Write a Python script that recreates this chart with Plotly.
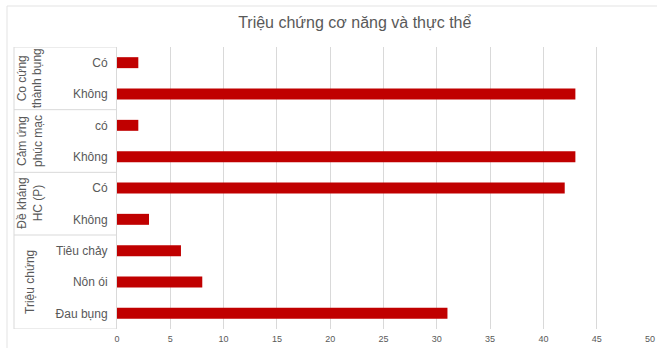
import plotly.graph_objects as go

groups = ["Co cứng<br>thành bụng", "Cảm ứng<br>phúc mạc", "Đề kháng<br>HC (P)", "Triệu chứng"]
group_sizes = [2, 2, 2, 3]
categories = ["Có", "Không", "có", "Không", "Có", "Không", "Tiêu chảy", "Nôn ói", "Đau bụng"]
values = [2, 43, 2, 43, 42, 3, 6, 8, 31]
x_ticks = [0, 5, 10, 15, 20, 25, 30, 35, 40, 45, 50]

W, H = 657, 348
ML, MR, MT, MB = 117, 7, 47, 19
PW, PH = W - ML - MR, H - MT - MB

def px_x(p):
    return (p - ML) / PW

def px_y(p):
    return (H - MB - p) / PH

pos = list(range(len(categories)))

fig = go.Figure(go.Bar(
    x=values, y=pos, orientation="h",
    marker=dict(color="#C00000", line=dict(width=0)),
    hoverinfo="x",
))

grey = "#595959"
font = "Liberation Sans, Arial, sans-serif"

shapes = []
annotations = []
line_c = "#d9d9d9"
start = 0
boundaries = [-0.5]
for g, n in zip(groups, group_sizes):
    end = start + n
    boundaries.append(end - 0.5)
    annotations.append(dict(
        text=g, x=px_x(30), xref="paper", y=(start + end - 1) / 2, yref="y",
        textangle=-90, showarrow=False, xanchor="center", yanchor="middle",
        font=dict(family=font, size=12, color=grey),
    ))
    start = end
for b in boundaries:
    shapes.append(dict(type="line", xref="paper", yref="y",
                       x0=px_x(14), x1=0, y0=b, y1=b,
                       line=dict(color=line_c, width=1)))
shapes.append(dict(type="line", xref="paper", yref="y",
                   x0=px_x(14), x1=px_x(14), y0=-0.5, y1=len(categories) - 0.5,
                   line=dict(color=line_c, width=1)))
shapes.append(dict(type="line", xref="paper", yref="paper",
                   x0=px_x(7), x1=px_x(660), y0=px_y(6), y1=px_y(6),
                   line=dict(color="#e3e3e3", width=1)))
shapes.append(dict(type="line", xref="paper", yref="paper",
                   x0=px_x(7), x1=px_x(7), y0=px_y(6), y1=px_y(350),
                   line=dict(color="#e3e3e3", width=1)))

fig.update_layout(
    width=W, height=H,
    margin=dict(l=ML, r=MR, t=MT, b=MB),
    paper_bgcolor="white", plot_bgcolor="white",
    title=dict(text="Triệu chứng cơ năng và thực thể", x=0.54, xanchor="center",
               y=1 - 22 / H, yanchor="middle",
               font=dict(family=font, size=16, color=grey)),
    bargap=0.65,
    showlegend=False,
    xaxis=dict(range=[0, 50], tickvals=x_ticks, ticktext=[str(t) for t in x_ticks],
               showgrid=True, gridcolor="#d9d9d9", gridwidth=1, automargin=False,
               zeroline=False, showline=False, ticks="", ticklabelstandoff=3,
               tickfont=dict(family=font, size=9, color=grey)),
    yaxis=dict(tickvals=pos, ticktext=categories, range=[len(categories) - 0.5, -0.5],
               showgrid=False, zeroline=False, showline=True, linecolor="#d9d9d9",
               ticks="", ticklabelstandoff=6, automargin=False,
               tickfont=dict(family=font, size=12, color=grey)),
    shapes=shapes, annotations=annotations,
)

fig.write_html("out.html")
